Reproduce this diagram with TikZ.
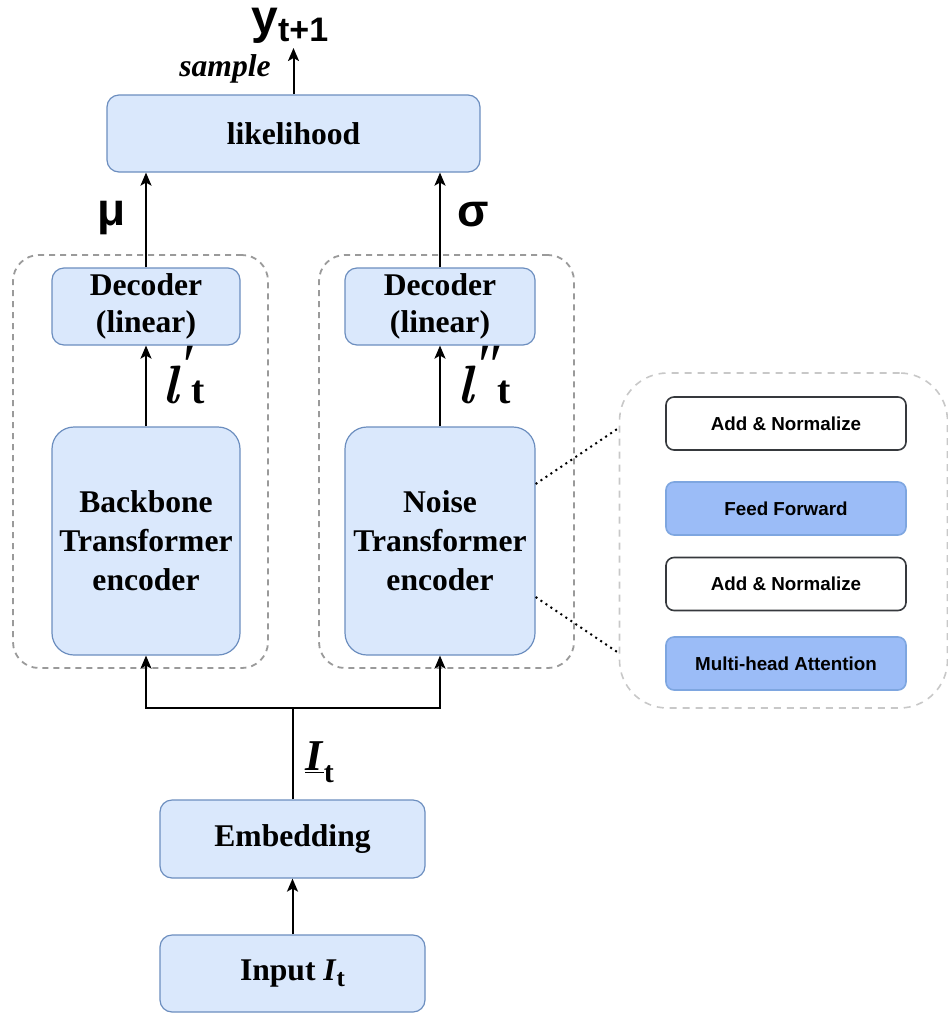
\documentclass[tikz,border=0pt]{standalone}
\usepackage{fontspec}
\setmainfont{Liberation Serif}
\newfontfamily\arialfont{Liberation Sans}
\newfontfamily\lmfont{lmroman10}[Extension=.otf, UprightFont=*-regular, BoldFont=*-bold,
  ItalicFont=*-italic, BoldItalicFont=*-bolditalic]
\usetikzlibrary{arrows.meta,calc}

\definecolor{boxfill}{HTML}{DAE8FC}
\definecolor{boxline}{HTML}{6C8EBF}
\definecolor{grpline}{HTML}{9A9A9A}
\definecolor{panline}{HTML}{C8C8C8}
\definecolor{layerfill}{HTML}{9BBCF7}
\definecolor{layerline}{HTML}{7EA6E0}
\definecolor{plainline}{HTML}{36393D}

\newcommand{\ellprime}[1]{{\lmfont\bfseries\itshape\fontsize{27}{27}\selectfont l}\hspace{0.5pt}\raisebox{9pt}{\fontsize{30}{30}\selectfont\textit{#1}}\hspace{-1pt}{\bfseries\fontsize{20}{20}\selectfont t}}
\newcommand{\declabel}{\raisebox{-8pt}{\shortstack{Decoder\\[4pt](linear)}}}

\tikzset{
  box/.style={draw=boxline, fill=boxfill, line width=0.6pt, rounded corners=6pt,
    align=center, inner sep=0pt, font=\bfseries\fontsize{15.8}{19.5}\selectfont},
  encbox/.style={box, rounded corners=11pt, minimum width=94pt, minimum height=114pt},
  decbox/.style={box, minimum width=94pt, minimum height=38.5pt},
  grp/.style={draw=grpline, dashed, dash pattern=on 3pt off 2.5pt, line width=0.9pt,
    rounded corners=13pt, minimum width=127.5pt, minimum height=206.5pt, inner sep=0pt},
  panel/.style={draw=panline, dashed, dash pattern=on 3.5pt off 3pt, line width=0.8pt,
    rounded corners=24pt, inner sep=0pt},
  layer/.style={rounded corners=4pt, line width=0.8pt, minimum width=120pt, minimum height=26.5pt,
    inner sep=0pt, font=\arialfont\bfseries\fontsize{9.4}{10}\selectfont},
  plainlayer/.style={layer, draw=plainline, fill=white},
  bluelayer/.style={layer, draw=layerline, fill=layerfill},
  arr/.style={line width=1pt, -{Stealth[length=6.5pt,width=5.5pt,inset=1.5pt]}},
  wire/.style={line width=1pt},
  zoomline/.style={line width=1pt, dotted},
  sym/.style={inner sep=0pt, font=\arialfont\bfseries\fontsize{23}{23}\selectfont},
  lbl/.style={inner sep=0pt, font=\bfseries\fontsize{15.8}{19.5}\selectfont},
}

\begin{document}
\begin{tikzpicture}[x=0.5pt, y=-0.5pt]
\useasboundingbox (0,0) rectangle (948,1018);

% dashed groups around the two encoder/decoder stacks
\node[grp] (grp1) at (140.5,461.5) {};
\node[grp] (grp2) at (446.5,461.5) {};

% main blocks
\node[box, minimum width=186.5pt, minimum height=38.5pt] (lik) at (293.5,133.5) {likelihood};
\node[decbox] (dec1) at (146,306.5) {\declabel};
\node[decbox, minimum width=95pt] (dec2) at (440,306.5) {\declabel};
\node[encbox] (enc1) at (146,541) {Backbone\\Transformer\\encoder};
\node[encbox, minimum width=95pt] (enc2) at (440,541) {Noise\\Transformer\\encoder};
\node[box, minimum width=132.5pt, minimum height=39pt] (emb) at (292.5,839) {\raisebox{-2pt}{Embedding}};
\node[box, minimum width=132.5pt, minimum height=38.5pt] (inp) at (292.5,973.5)
  {Input \textit{I}\raisebox{-3pt}{\fontsize{12.5}{12.5}\selectfont t}};

% expanded view of one encoder layer
\node[panel, minimum width=164pt, minimum height=167.5pt] (pan) at (783.5,540.5) {};
\node[plainlayer] (an2) at (786,423.5) {Add \& Normalize};
\node[bluelayer]  (ff)  at (786,508.5) {Feed Forward};
\node[plainlayer] (an1) at (786,584) {Add \& Normalize};
\node[bluelayer]  (mha) at (786,663.5) {Multi-head Attention};

\draw[zoomline] ([yshift=28.5pt]enc2.east) -- ([yshift=56.25pt]pan.west);
\draw[zoomline] ([yshift=-28pt]enc2.east) -- ([yshift=-56.25pt]pan.west);

% output
\coordinate (out) at (293.5,48);
\draw[arr] (lik.north) -- (out);
\node[inner sep=0pt, text height=13pt, anchor=base west] (ylab) at (251,33)
  {\arialfont\bfseries\fontsize{24}{24}\selectfont y\raisebox{-4pt}{\fontsize{17}{17}\selectfont t+1}};
\node[lbl, font=\bfseries\itshape\fontsize{15.8}{19.5}\selectfont] (samp) at (225,69) {sample};

% decoders to likelihood
\draw[arr] (dec1.north) -- (dec1.north |- lik.south);
\draw[arr] (dec2.north) -- (dec2.north |- lik.south);
\node[sym] (mu) at (112,218) {μ};
\node[sym] (sig) at (473,215) {σ};

% encoders to decoders
\draw[arr] (enc1.north) -- (dec1.south);
\draw[arr] (enc2.north) -- (dec2.south);
\node[inner sep=0pt, anchor=base west] (lp) at (162,403) {\ellprime{′}};
\node[inner sep=0pt, anchor=base west] (lpp) at (457,403) {\ellprime{″}};

% embedding fans out to both encoders
\coordinate (split) at (292.5,708);
\draw[wire] (emb.north) -- (split);
\draw[arr] (split) -| (enc1.south);
\draw[arr] (split) -| (enc2.south);
\node[inner sep=0pt, anchor=base west] (it) at (305,770)
  {\bfseries\fontsize{22}{22}\selectfont\underline{\textit{I}}\raisebox{-6pt}{\fontsize{15}{15}\selectfont t}};

% input to embedding
\draw[arr] (inp.north) -- (emb.south);
\end{tikzpicture}
\end{document}
